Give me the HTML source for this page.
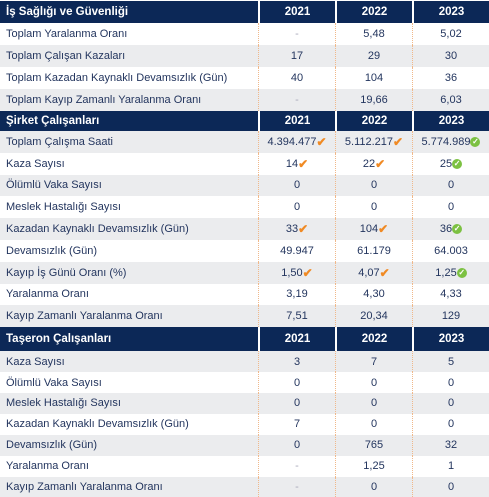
<!DOCTYPE html>
<html><head><meta charset="utf-8">
<style>
body{margin:0;width:489px;height:497px;background:#fff;font-family:"Liberation Sans",sans-serif;color:#23355e;overflow:hidden}
.r{position:absolute;left:0;width:489px;display:flex;font-size:11px;align-items:center}
.r>div{height:100%;display:flex;align-items:center;justify-content:center;box-sizing:border-box}
.r>div:first-child{width:258px;justify-content:flex-start;padding-left:6px}
.r>div:nth-child(2){width:77px}
.r>div:nth-child(3){width:77px}
.r>div:nth-child(4){width:77px}
.d>div:nth-child(n+2){border-left:1px dotted #f0b88a}
.g{background:#ebecee}
.h{background:#0c2857;color:#fff;font-weight:bold;font-size:11.5px}
.h>div:nth-child(n+2){border-left:2px solid #fff}
.dash{color:#aab}
.ck{color:#f08a24;font-size:12px;font-weight:bold}
.gc{display:inline-block;width:10px;height:10px;border-radius:50%;background:#7cc142;color:#fff;font-size:8px;line-height:10px;text-align:center;font-weight:bold}
</style></head><body>
<div id="t"></div>
<script>
const sections=[
 {title:"İş Sağlığı ve Güvenliği",h:22,rows:[
  ["Toplam Yaralanma Oranı","-","5,48","5,02"],
  ["Toplam Çalışan Kazaları","17","29","30"],
  ["Toplam Kazadan Kaynaklı Devamsızlık (Gün)","40","104","36"],
  ["Toplam Kayıp Zamanlı Yaralanma Oranı","-","19,66","6,03"]],firstGrey:false,rh:22},
 {title:"Şirket Çalışanları",h:20,rows:[
  ["Toplam Çalışma Saati","4.394.477*","5.112.217*","5.774.989+"],
  ["Kaza Sayısı","14*","22*","25+"],
  ["Ölümlü Vaka Sayısı","0","0","0"],
  ["Meslek Hastalığı Sayısı","0","0","0"],
  ["Kazadan Kaynaklı Devamsızlık (Gün)","33*","104*","36+"],
  ["Devamsızlık (Gün)","49.947","61.179","64.003"],
  ["Kayıp İş Günü Oranı (%)","1,50*","4,07*","1,25+"],
  ["Yaralanma Oranı","3,19","4,30","4,33"],
  ["Kayıp Zamanlı Yaralanma Oranı","7,51","20,34","129"]],firstGrey:true,rh:21.8},
 {title:"Taşeron Çalışanları",h:24,rows:[
  ["Kaza Sayısı","3","7","5"],
  ["Ölümlü Vaka Sayısı","0","0","0"],
  ["Meslek Hastalığı Sayısı","0","0","0"],
  ["Kazadan Kaynaklı Devamsızlık (Gün)","7","0","0"],
  ["Devamsızlık (Gün)","0","765","32"],
  ["Yaralanma Oranı","-","1,25","1"],
  ["Kayıp Zamanlı Yaralanma Oranı","-","0","0"]],firstGrey:true,rh:20.9}
];
const years=["2021","2022","2023"];
const t=document.getElementById('t');
let y=1;
function cell(v){
 if(v==="-")return '<span class="dash">-</span>';
 if(v.endsWith("*"))return v.slice(0,-1)+'<span class="ck">✔</span>';
 if(v.endsWith("+"))return v.slice(0,-1)+'<span class="gc">✓</span>';
 return v;
}
sections.forEach((s,si)=>{
 const h=document.createElement('div');
 h.className='r h';h.style.top=y+'px';h.style.height=s.h+'px';
 
 
 h.innerHTML='<div>'+s.title+'</div>'+years.map(x=>'<div>'+x+'</div>').join('');
 t.appendChild(h);y+=s.h;
 s.rows.forEach((r,i)=>{
  const d=document.createElement('div');
  const grey=(i%2===0)===s.firstGrey;
  d.className='r d'+(grey?' g':'');d.style.top=y+'px';d.style.height=s.rh+'px';
  
  
  d.innerHTML='<div>'+r[0]+'</div>'+r.slice(1).map(v=>'<div>'+cell(v)+'</div>').join('');
  t.appendChild(d);y+=s.rh;
 });
});
</script>
</body></html>
